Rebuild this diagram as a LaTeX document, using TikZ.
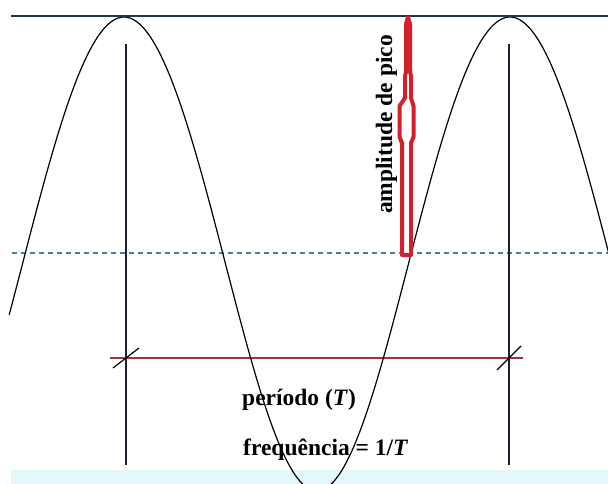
\documentclass[tikz,border=0pt]{standalone}
\usepackage{fontspec}
\setmainfont{Liberation Serif}
\definecolor{topline}{RGB}{30,58,70}
\definecolor{dashcol}{RGB}{70,130,160}
\definecolor{vline}{RGB}{30,30,50}
\definecolor{hred}{RGB}{160,50,65}
\definecolor{arrowred}{RGB}{212,32,45}
\definecolor{band}{RGB}{228,248,252}
\begin{document}
\begin{tikzpicture}[x=1pt,y=-1pt,
  wave/.style={black, line width=1.2pt},
  vertline/.style={vline, line width=1.3pt},
  perline/.style={hred, line width=1.2pt},
  tickmark/.style={black, line width=1.2pt},
  lbl/.style={font=\fontsize{23.5}{27}\selectfont\bfseries, inner sep=0pt}]
\useasboundingbox (0,0) rectangle (608,484);
\fill[white] (0,0) rectangle (608,484);
\fill[band] (11,470) rectangle (608,484);
% named coordinates
\coordinate (tl) at (11,16);
\coordinate (tr) at (608,16);
\coordinate (dl) at (12,253);
\coordinate (dr) at (608,253);
\coordinate (v1t) at (126,44);
\coordinate (v1b) at (126,465);
\coordinate (v2t) at (509,44);
\coordinate (v2b) at (509,465);
\coordinate (hl) at (110,358);
\coordinate (hr) at (523,358);
\coordinate (k1a) at (113,368);
\coordinate (k1b) at (139,348);
\coordinate (k2a) at (497,370);
\coordinate (k2b) at (521,346);
% dashed midline
\draw[dashcol, line width=1.1pt, dash pattern=on 5pt off 4pt] (dl) -- (dr);
% verticals
\draw[vertline] (v1t) -- (v1b);
\draw[vertline] (v2t) -- (v2b);
% period line and ticks
\draw[perline] (hl) -- (hr);
\draw[tickmark] (k1a) -- (k1b);
\draw[tickmark] (k2a) -- (k2b);
% wave
\draw[wave] plot[domain=-1.83:7.9, samples=240, smooth, variable=\t]
  ({124+61.43*(\t+0.04*sin(\t r))}, {254-237*cos(\t r)});
% top line
\draw[topline, line width=2.4pt] (tl) -- (tr);
% amplitude arrow
\draw[arrowred, fill=white, line width=4pt, line join=round]
  (408,17) -- (410,24) -- (410,72) -- (411,76) -- (411,98) -- (413.5,106) -- (413.5,137)
  -- (411,143) -- (411,255) -- (402,255) -- (402,143) -- (399.5,137) -- (399.5,106)
  -- (405,98) -- (405,76) -- (406,72) -- (406,24) -- cycle;
% labels
\node[lbl, rotate=90] (amp) at (386.5,124.5) {amplitude de pico};
\node[lbl, anchor=base west] (per) at (242,405) {período (\textit{T})};
\node[lbl, anchor=base west] (freq) at (243,455) {frequência = 1/\textit{T}};
\end{tikzpicture}
\end{document}
